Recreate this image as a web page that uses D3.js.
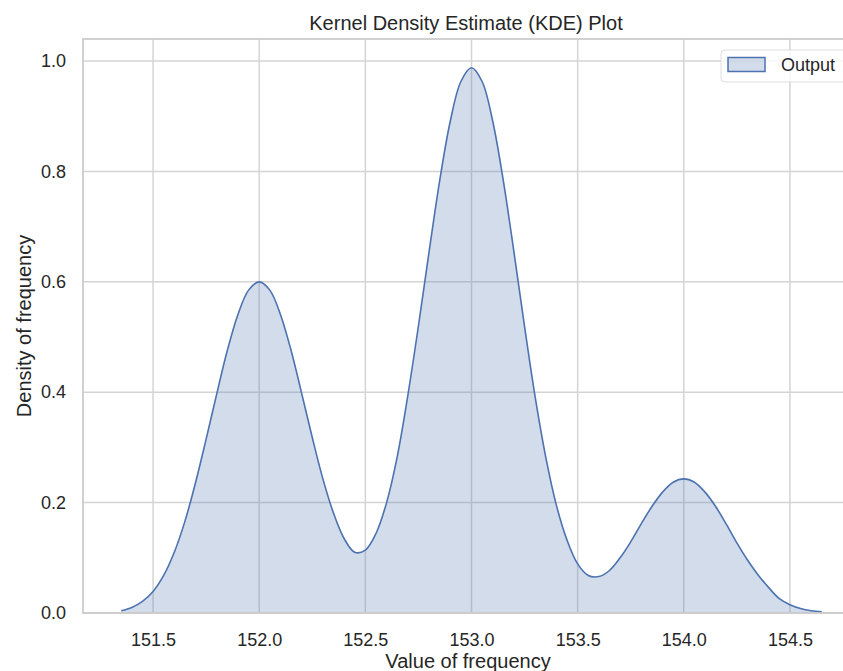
<!DOCTYPE html>
<html>
<head>
<meta charset="utf-8">
<script src="https://cdn.jsdelivr.net/npm/d3@7"></script>
<style>
  body { margin: 0; background: #fff; overflow: hidden; }
  text { font-family: "Liberation Sans", Arial, sans-serif; fill: #262626; }
</style>
</head>
<body>
<div class="canvas"></div>
<script>
// kde curve (x = value, y = density)
const xValues = [
    151.35, 151.40, 151.45, 151.50, 151.55, 151.60, 151.65, 151.70, 151.75, 151.80,
    151.85, 151.90, 151.95, 152.00, 152.05, 152.10, 152.15, 152.20, 152.25, 152.30,
    152.35, 152.40, 152.45, 152.50, 152.55, 152.60, 152.65, 152.70, 152.75, 152.80,
    152.85, 152.90, 152.95, 153.00, 153.05, 153.10, 153.15, 153.20, 153.25, 153.30,
    153.35, 153.40, 153.45, 153.50, 153.55, 153.60, 153.65, 153.70, 153.75, 153.80,
    153.85, 153.90, 153.95, 154.00, 154.05, 154.10, 154.15, 154.20, 154.25, 154.30,
    154.35, 154.40, 154.45, 154.50, 154.55, 154.60, 154.65
];
const densityValues = [
    0.004, 0.010, 0.021, 0.039, 0.068, 0.110, 0.166, 0.236, 0.315, 0.397,
    0.476, 0.541, 0.585, 0.600, 0.585, 0.541, 0.476, 0.398, 0.318, 0.243,
    0.181, 0.135, 0.110, 0.114, 0.144, 0.200, 0.283, 0.394, 0.520, 0.654,
    0.783, 0.891, 0.963, 0.988, 0.963, 0.891, 0.783, 0.654, 0.519, 0.391,
    0.282, 0.195, 0.132, 0.089, 0.068, 0.066, 0.077, 0.100, 0.129, 0.162,
    0.193, 0.219, 0.237, 0.243, 0.237, 0.219, 0.193, 0.161, 0.127, 0.096,
    0.069, 0.046, 0.026, 0.015, 0.008, 0.004, 0.002
];
const xTicks = [151.5, 152.0, 152.5, 153.0, 153.5, 154.0, 154.5];
const yTicks = [0.0, 0.2, 0.4, 0.6, 0.8, 1.0];
const seriesName = 'Output';

const data = xValues.map((v, i) => ({ x: v, y: densityValues[i] }));

const width = 843, height = 671;
const plot = { left: 83, right: 860, top: 39, bottom: 613 };
const blue = '#4c72b0';

const svg = d3.select('.canvas')
    .append('svg')
    .attr('width', width)
    .attr('height', height);

const x = d3.scaleLinear()
    .domain([151.17, 154.83])
    .range([plot.left, plot.right]);

const y = d3.scaleLinear()
    .domain([0, 1.04])
    .range([plot.bottom, plot.top]);

// grid
svg.append('g')
    .selectAll('line')
    .data(xTicks)
    .enter().append('line')
    .attr('x1', d => x(d)).attr('x2', d => x(d))
    .attr('y1', plot.top).attr('y2', plot.bottom)
    .attr('stroke', '#d4d4d4')
    .attr('stroke-width', 1.5);

svg.append('g')
    .selectAll('line')
    .data(yTicks)
    .enter().append('line')
    .attr('x1', plot.left).attr('x2', plot.right)
    .attr('y1', d => y(d)).attr('y2', d => y(d))
    .attr('stroke', '#d4d4d4')
    .attr('stroke-width', 1.5);

// density fill + line
const curve = d3.curveCatmullRom.alpha(0.5);

const area = d3.area()
    .x(d => x(d.x))
    .y0(y(0))
    .y1(d => y(d.y))
    .curve(curve);

const line = d3.line()
    .x(d => x(d.x))
    .y(d => y(d.y))
    .curve(curve);

svg.append('path')
    .datum(data)
    .attr('d', area)
    .attr('fill', blue)
    .attr('fill-opacity', 0.25);

svg.append('path')
    .datum(data)
    .attr('d', line)
    .attr('fill', 'none')
    .attr('stroke', blue)
    .attr('stroke-width', 1.6);

// spines
svg.append('rect')
    .attr('x', plot.left).attr('y', plot.top)
    .attr('width', plot.right - plot.left).attr('height', plot.bottom - plot.top)
    .attr('fill', 'none')
    .attr('stroke', '#cccccc')
    .attr('stroke-width', 1.8);

// axes (labels only, seaborn whitegrid has no tick marks)
const xAxis = d3.axisBottom(x).tickValues(xTicks).tickFormat(d3.format('.1f')).tickSize(0).tickPadding(20);
const yAxis = d3.axisLeft(y).tickValues(yTicks).tickFormat(d3.format('.1f')).tickSize(0).tickPadding(17);

const xAxisGroup = svg.append('g')
    .attr('transform', `translate(0, ${plot.bottom})`)
    .call(xAxis);
const yAxisGroup = svg.append('g')
    .attr('transform', `translate(${plot.left}, 0)`)
    .call(yAxis);

[xAxisGroup, yAxisGroup].forEach(g => {
    g.select('.domain').remove();
    g.selectAll('text')
        .attr('font-size', 18)
        .attr('font-family', '"Liberation Sans", Arial, sans-serif')
        .attr('fill', '#262626');
});

// titles
svg.append('text')
    .attr('x', 466).attr('y', 30)
    .attr('text-anchor', 'middle')
    .attr('font-size', 20)
    .text('Kernel Density Estimate (KDE) Plot');

svg.append('text')
    .attr('x', 468).attr('y', 668)
    .attr('text-anchor', 'middle')
    .attr('font-size', 20)
    .text('Value of frequency');

svg.append('text')
    .attr('transform', 'translate(31, 326) rotate(-90)')
    .attr('text-anchor', 'middle')
    .attr('font-size', 20)
    .text('Density of frequency');

// legend
const legend = svg.append('g');
legend.append('rect')
    .attr('x', 721).attr('y', 50)
    .attr('width', 140).attr('height', 32)
    .attr('rx', 4)
    .attr('fill', '#fff').attr('fill-opacity', 0.8)
    .attr('stroke', '#dddddd');
legend.append('rect')
    .attr('x', 728).attr('y', 57.5)
    .attr('width', 37).attr('height', 14)
    .attr('fill', blue).attr('fill-opacity', 0.25)
    .attr('stroke', blue).attr('stroke-width', 1.5);
legend.append('text')
    .attr('x', 781).attr('y', 71)
    .attr('font-size', 18)
    .text(seriesName);
</script>
</body>
</html>
